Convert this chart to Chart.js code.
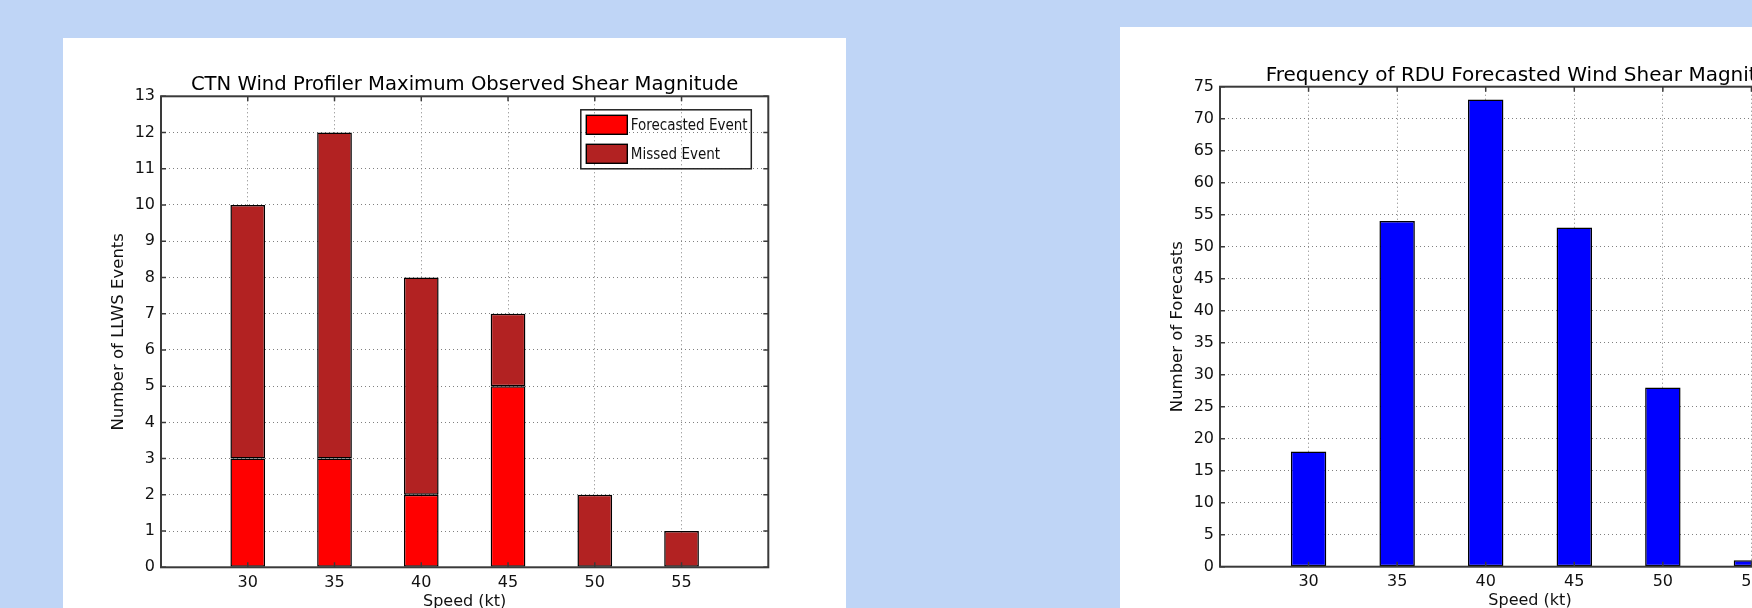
<!DOCTYPE html>
<html>
<head>
<meta charset="utf-8">
<script src="https://cdn.jsdelivr.net/npm/chart.js@4.4.1/dist/chart.umd.min.js"></script>
<style>
    html, body { margin: 0; padding: 0; width: 1752px; height: 608px; overflow: hidden; background: #bfd5f6; }
    .panel { position: absolute; background: #fff; overflow: hidden; }
    #panelCtn { left: 63px; top: 38px; width: 783px; height: 570px; }
    #panelRdu { left: 1120px; top: 27px; width: 632px; height: 581px; }
    canvas { position: absolute; left: 0; top: 0; }
</style>
</head>
<body>
<div class="panel" id="panelCtn"><canvas id="grafikCtn" width="783" height="580" style="width:783px;height:580px"></canvas></div>
<div class="panel" id="panelRdu"><canvas id="grafikRdu" width="800" height="590" style="width:800px;height:590px"></canvas></div>
<script>
// data
const SPEEDS = [30, 35, 40, 45, 50, 55];
const FORECASTED_EVENTS = [3, 3, 2, 5, 0, 0];
const MISSED_EVENTS = [7, 9, 6, 2, 2, 1];
const RDU_FORECASTS = [18, 54, 73, 53, 28, 1];
const X_TICKS = [30, 35, 40, 45, 50, 55];
const CTN_Y_MAX = 13, CTN_Y_STEP = 1;
const RDU_Y_MAX = 75, RDU_Y_STEP = 5;

Chart.defaults.font.family = "'DejaVu Sans', sans-serif";
Chart.defaults.color = '#111';

const FRAME = '#3a3a3a';

// matplotlib style frame: box on four sides with short inward ticks
const framePlugin = {
    id: 'frame',
    afterDatasetsDraw(chart) {
        const {ctx, chartArea: a, scales} = chart;
        ctx.save();
        ctx.strokeStyle = FRAME;
        ctx.lineWidth = 1.5;
        ctx.beginPath();
        scales.x.ticks.forEach(t => {
            const px = scales.x.getPixelForValue(t.value);
            ctx.moveTo(px, a.bottom); ctx.lineTo(px, a.bottom - 5);
            ctx.moveTo(px, a.top); ctx.lineTo(px, a.top + 5);
        });
        scales.y.ticks.forEach(t => {
            const py = scales.y.getPixelForValue(t.value);
            ctx.moveTo(a.left, py); ctx.lineTo(a.left + 5, py);
            ctx.moveTo(a.right, py); ctx.lineTo(a.right - 5, py);
        });
        ctx.stroke();
        ctx.lineWidth = 2;
        ctx.strokeRect(a.left, a.top, a.right - a.left, a.bottom - a.top);
        ctx.restore();
    }
};

// title centred over the plot area, like matplotlib does it
const plotTitlePlugin = {
    id: 'plotTitle',
    afterDraw(chart, args, opts) {
        const {ctx, chartArea: a} = chart;
        ctx.save();
        ctx.font = opts.size + "px 'DejaVu Sans', sans-serif";
        ctx.fillStyle = '#000';
        ctx.textAlign = 'center';
        ctx.textBaseline = 'alphabetic';
        ctx.fillText(opts.text, (a.left + a.right) / 2, a.top - 6.2);
        ctx.restore();
    }
};

// framed legend in the upper right of the plot
const boxLegendPlugin = {
    id: 'boxLegend',
    afterDraw(chart, args, opts) {
        if (!opts.show) return;
        const {ctx, chartArea: a} = chart;
        const w = 170.5, h = 59;
        const x0 = a.right - 17 - w, y0 = a.top + 13.5;
        ctx.save();
        ctx.strokeStyle = '#222';
        ctx.lineWidth = 1.5;
        ctx.strokeRect(x0, y0, w, h);
        ctx.font = "15px 'DejaVu Sans Condensed', 'Liberation Sans Narrow', 'DejaVu Sans', sans-serif";
        ctx.textBaseline = 'middle';
        chart.data.datasets.forEach((ds, i) => {
            const sy = y0 + 5.5 + i * 29;
            ctx.fillStyle = ds.backgroundColor;
            ctx.fillRect(x0 + 5.5, sy, 41, 19);
            ctx.strokeStyle = '#000';
            ctx.lineWidth = 1.4;
            ctx.strokeRect(x0 + 5.5, sy, 41, 19);
            ctx.fillStyle = '#111';
            ctx.fillText(ds.label, x0 + 50, sy + 10.5);
        });
        ctx.restore();
    }
};

function buatOpsi(o) {
    return {
        responsive: false,
        animation: false,
        layout: { padding: { left: o.padLeft, right: o.padRight, top: o.padTop, bottom: 0 } },
        plugins: {
            legend: { display: false },
            tooltip: { enabled: false },
            title: { display: false },
            plotTitle: { text: o.title, size: o.titleSize },
            boxLegend: { show: o.legend }
        },
        scales: {
            x: {
                type: 'linear',
                min: 25,
                max: 60,
                offset: false,
                stacked: true,
                afterBuildTicks: scale => { scale.ticks = X_TICKS.map(v => ({ value: v })); },
                afterFit: scale => { scale.height = o.xHeight; },
                grid: { offset: false, drawTicks: false, color: '#808080', lineWidth: 1 },
                border: { display: false, dash: [1, 3] },
                ticks: { padding: 6, font: { size: 16 }, maxRotation: 0, autoSkip: false },
                title: { display: true, text: 'Speed (kt)', font: { size: 16 }, padding: { top: 0, bottom: 6.4 } }
            },
            y: {
                min: 0,
                max: o.yMax,
                stacked: true,
                afterFit: scale => { scale.width = 52; },
                grid: { drawTicks: false, color: '#808080', lineWidth: 1 },
                border: { display: false, dash: [1, 3] },
                ticks: { stepSize: o.yStep, padding: 6, font: { size: 16 } },
                title: { display: true, text: o.yTitle, font: { size: 16.5 }, padding: { top: 0, bottom: 0 } }
            }
        }
    };
}

const titik = vals => vals.map((v, i) => ({ x: SPEEDS[i], y: v }));

const gayaBatang = { borderColor: '#000', borderWidth: 1.5, borderSkipped: false, barPercentage: 0.4, categoryPercentage: 1 };

new Chart(document.getElementById('grafikCtn').getContext('2d'), {
    type: 'bar',
    data: {
        datasets: [
            Object.assign({ label: 'Forecasted Event', data: titik(FORECASTED_EVENTS), backgroundColor: '#ff0000' }, gayaBatang),
            Object.assign({ label: 'Missed Event', data: titik(MISSED_EVENTS), backgroundColor: '#b22222' }, gayaBatang)
        ]
    },
    options: buatOpsi({
        title: 'CTN Wind Profiler Maximum Observed Shear Magnitude',
        titleSize: 19.6,
        yTitle: 'Number of LLWS Events',
        yMax: CTN_Y_MAX, yStep: CTN_Y_STEP,
        padLeft: 46, padRight: 77.7, padTop: 58.3,
        xHeight: 580 - 529.3,
        legend: true
    }),
    plugins: [framePlugin, plotTitlePlugin, boxLegendPlugin]
});

new Chart(document.getElementById('grafikRdu').getContext('2d'), {
    type: 'bar',
    data: {
        datasets: [
            Object.assign({ label: 'Number of Forecasts', data: titik(RDU_FORECASTS), backgroundColor: '#0000ff' }, gayaBatang)
        ]
    },
    options: buatOpsi({
        title: 'Frequency of RDU Forecasted Wind Shear Magnitude',
        titleSize: 20,
        yTitle: 'Number of Forecasts',
        yMax: RDU_Y_MAX, yStep: RDU_Y_STEP,
        padLeft: 48, padRight: 80, padTop: 59.7,
        xHeight: 590 - 539.7,
        legend: false
    }),
    plugins: [framePlugin, plotTitlePlugin, boxLegendPlugin]
});
</script>
</body>
</html>
